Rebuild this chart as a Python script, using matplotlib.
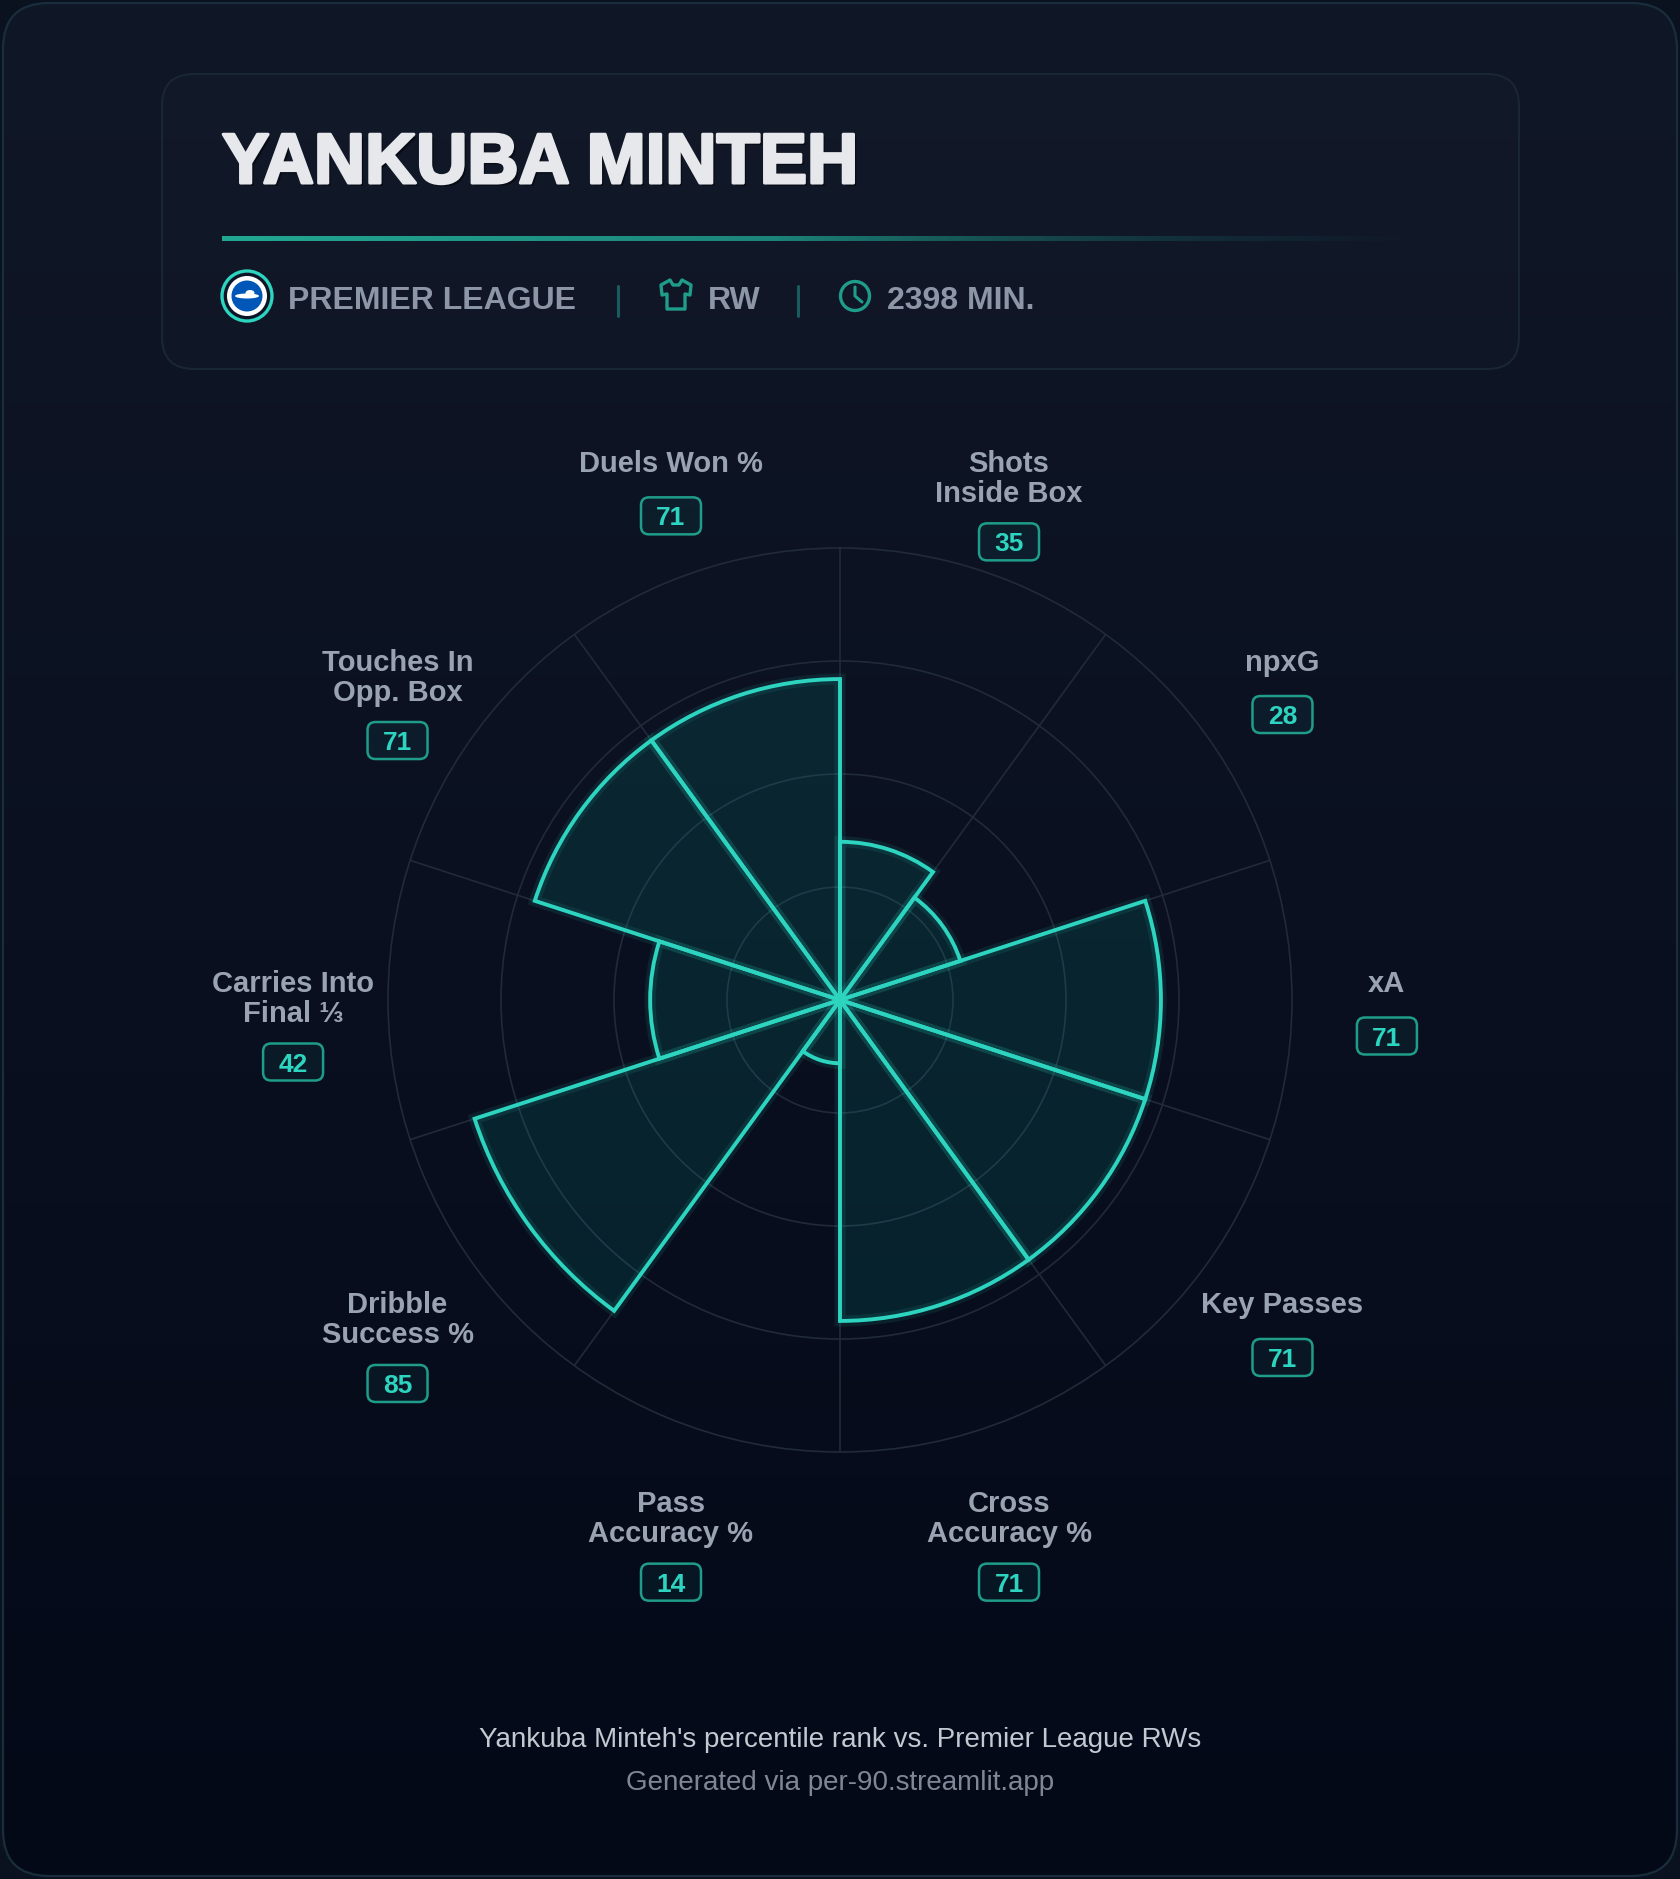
import numpy as np
import matplotlib
matplotlib.use("Agg")
import matplotlib.pyplot as plt
from matplotlib.patches import FancyBboxPatch, Circle, Polygon, Ellipse
from matplotlib import patheffects as pe

# ---------------- data ----------------
player = "YANKUBA MINTEH"
league = "PREMIER LEAGUE"
position = "RW"
minutes = "2398 MIN."
categories = ["Shots\nInside Box", "npxG", "xA", "Key Passes", "Cross\nAccuracy %",
              "Pass\nAccuracy %", "Dribble\nSuccess %", "Carries Into\nFinal ⅓",
              "Touches In\nOpp. Box", "Duels Won %"]
values = [35, 28, 71, 71, 71, 14, 85, 42, 71, 71]
footer1 = "Yankuba Minteh's percentile rank vs. Premier League RWs"
footer2 = "Generated via per-90.streamlit.app"

# ---------------- style / layout ----------------
W, H = 1680, 1879
CX, CY, RAD = 840, 1000, 452          # polar centre / radius in pixels (y down)
TEAL = "#2dd4bf"
TEAL_DIM = "#1f9d8a"
GRID = "#212a3a"
LABEL = "#9aa3b2"
FONT = ["Liberation Sans", "DejaVu Sans"]
plt.rcParams["font.family"] = FONT

fig = plt.figure(figsize=(W / 100, H / 100), dpi=100, facecolor="#0a1220")

ov = fig.add_axes([0, 0, 1, 1], zorder=0)
ov.set_xlim(0, W)
ov.set_ylim(H, 0)
ov.axis("off")

# background gradient inside rounded frame
frame = FancyBboxPatch((3, 3), W - 6, H - 6, boxstyle="round,pad=0,rounding_size=46",
                       fc="none", ec="#1a2d3c", lw=1.6, zorder=3)
ov.add_patch(frame)
top = np.array([16, 23, 39]) / 255
bot = np.array([4, 9, 24]) / 255
g = np.linspace(0, 1, 256)[:, None]
grad = (top[None, None, :] * (1 - g[..., None]) + bot[None, None, :] * g[..., None])
grad = np.repeat(grad, 2, axis=1)
im = ov.imshow(grad, extent=[0, W, H, 0], aspect="auto", zorder=1)
clipper = FancyBboxPatch((3, 3), W - 6, H - 6, boxstyle="round,pad=0,rounding_size=46",
                         fc="none", ec="none", transform=ov.transData)
ov.add_patch(clipper)
im.set_clip_path(clipper)

# header card
card = FancyBboxPatch((162, 74), 1357, 295, boxstyle="round,pad=0,rounding_size=32",
                      fc=(1, 1, 1, 0.010), ec="#182636", lw=1.5, zorder=4)
ov.add_patch(card)

ov.text(222, 183, player, fontsize=51, fontweight="bold", color="#e6e8ec",
        family=FONT, va="baseline", ha="left", zorder=6,
        path_effects=[pe.withSimplePatchShadow(offset=(2, -2), shadow_rgbFace="black", alpha=0.5),
                      pe.withStroke(linewidth=2.2, foreground="#e6e8ec"),
                      pe.Normal()])

# gradient accent line
n = 400
xs = np.linspace(0, 1, n)
alpha = np.clip(np.where(xs < 0.45, 1.0, 1 - (xs - 0.45) / 0.55), 0, 1) ** 1.3
c0 = np.array([34, 168, 146]) / 255
c1 = np.array([22, 90, 92]) / 255
cols = c0[None, :] * (1 - xs[:, None]) + c1[None, :] * xs[:, None]
rgba = np.concatenate([cols, alpha[:, None]], axis=1)[None, :, :]
ov.imshow(rgba, extent=[222, 1450, 240.5, 235.5], aspect="auto", zorder=5)

# meta row
MY = 297
ov.add_patch(Circle((247, MY - 1), 25, fc="#0c1626", ec=TEAL, lw=2.4, zorder=6))
ov.add_patch(Circle((247, MY - 1), 20, fc="white", ec="none", zorder=7))
ov.add_patch(Circle((247, MY - 1), 15.5, fc="#0057b8", ec="none", zorder=8))
ov.add_patch(Ellipse((247, MY - 1), 24, 5, fc="white", ec="none", zorder=9))
ov.add_patch(Ellipse((250, MY - 4), 9, 6, fc="white", ec="none", zorder=9))
meta_style = dict(fontsize=23, fontweight="bold", color="#8c96a7", va="baseline",
                  ha="left", zorder=6, family=FONT)
ov.text(288, MY + 11.5, league, **meta_style)
ov.plot([618, 618], [286, 316], color="#1b5a61", lw=2.2, zorder=6, solid_capstyle="round")
shirt = np.array([(-6, -15), (-15, -10), (-14, 0), (-9, -1), (-9, 14), (9, 14),
                  (9, -1), (14, 0), (15, -10), (6, -15), (3, -10), (-3, -10)])
ov.add_patch(Polygon(shirt + np.array([676, 295]), closed=True, fc="none", ec=TEAL_DIM,
                     lw=2.4, joinstyle="round", zorder=6))
ov.text(708, MY + 11.5, position, **meta_style)
ov.plot([798, 798], [286, 316], color="#1b5a61", lw=2.2, zorder=6, solid_capstyle="round")
ov.add_patch(Circle((855, 296), 14.5, fc="none", ec=TEAL_DIM, lw=2.4, zorder=6))
ov.plot([855, 855, 862], [287, 296, 302], color=TEAL_DIM, lw=2.2, zorder=6,
        solid_capstyle="round", solid_joinstyle="round")
ov.text(887, MY + 11.5, minutes, **meta_style)

# ---------------- polar chart ----------------
rect = [(CX - RAD) / W, 1 - (CY + RAD) / H, 2 * RAD / W, 2 * RAD / H]
ax = fig.add_axes(rect, projection="polar", zorder=2)
ax.set_facecolor("none")
ax.set_theta_zero_location("N")
ax.set_theta_direction(-1)
ax.set_ylim(0, 100)
N = len(categories)
width = 2 * np.pi / N
theta = (np.arange(N) + 0.5) * width
ax.set_xticks(np.arange(N) * width)
ax.set_xticklabels([])
ax.set_yticks([25, 50, 75])
ax.set_yticklabels([])
ax.grid(True, color=GRID, lw=1.2)
ax.spines["polar"].set_color(GRID)
ax.spines["polar"].set_linewidth(1.2)
ax.tick_params(length=0)
ax.set_axisbelow(True)

ax.bar(theta, values, width=width, bottom=0, facecolor="none",
       edgecolor=(45 / 255, 212 / 255, 191 / 255, 0.10), lw=8, zorder=2)
ax.bar(theta, values, width=width, bottom=0, facecolor=(6 / 255, 182 / 255, 160 / 255, 0.13),
       edgecolor=TEAL, lw=2.8, zorder=3, joinstyle="miter")

# ---------------- labels ----------------
LR = RAD * 1.21
for i, (cat, val) in enumerate(zip(categories, values)):
    t = theta[i]
    lx = CX + LR * np.sin(t)
    ly = CY - LR * np.cos(t)
    lines = cat.split("\n")
    y0 = ly - 18
    for j, line in enumerate(lines):
        ov.text(lx, y0 + 30 * j + 10, line, fontsize=21, fontweight="bold", color=LABEL,
                ha="center", va="baseline", zorder=6, family=FONT)
    gap = 54 if len(lines) == 1 else 50
    by = y0 + 30 * (len(lines) - 1) + gap
    ov.add_patch(FancyBboxPatch((lx - 30, by - 18.5), 60, 37,
                                boxstyle="round,pad=0,rounding_size=8",
                                fc=(45 / 255, 212 / 255, 191 / 255, 0.06), ec=TEAL_DIM,
                                lw=1.8, zorder=6))
    ov.text(lx, by + 9.5, str(val), fontsize=19, fontweight="bold", color=TEAL,
            ha="center", va="baseline", zorder=7, family=FONT)

# ---------------- footer ----------------
ov.text(840, 1737 + 10, footer1, fontsize=20, color="#c3c8d1", ha="center",
        va="baseline", zorder=6, family=FONT)
ov.text(840, 1780 + 10, footer2, fontsize=20, color="#7f8796", ha="center",
        va="baseline", zorder=6, family=FONT)

fig.savefig("out.png", dpi=100, facecolor=fig.get_facecolor())
